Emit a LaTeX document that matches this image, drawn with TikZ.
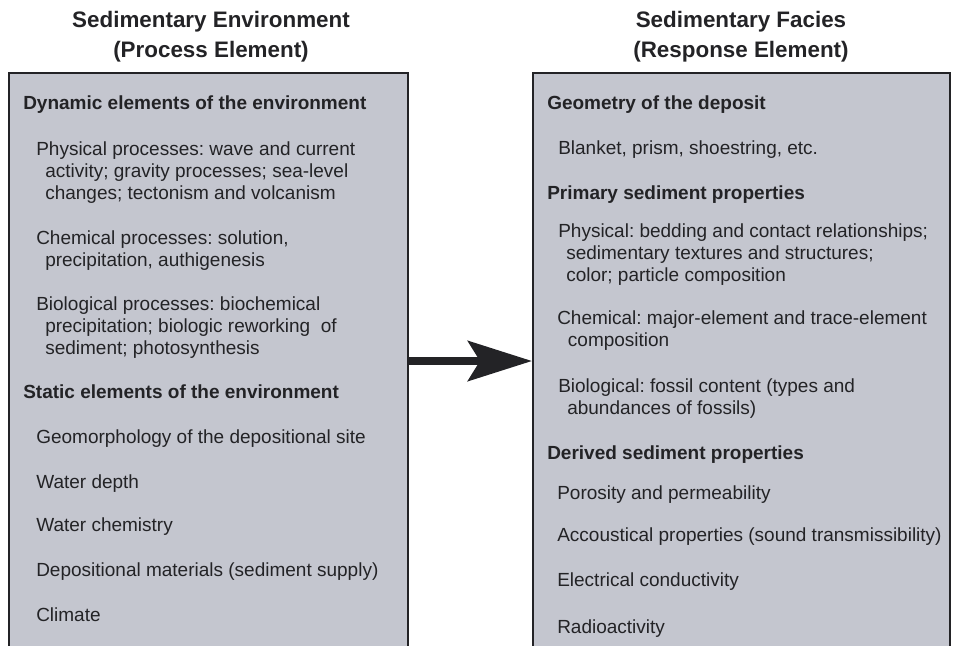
\documentclass[tikz,border=0pt]{standalone}
\usepackage{fontspec}
\setmainfont{Liberation Sans}
\usetikzlibrary{arrows.meta}
\frenchspacing
\definecolor{panelgrey}{RGB}{196,198,207}
\definecolor{inkgrey}{RGB}{35,35,38}
\begin{document}
\begin{tikzpicture}[x=0.75pt,y=-0.75pt,
    title/.style={font=\fontsize{16.8}{22.5}\selectfont\bfseries,align=center,text=inkgrey},
    panel/.style={draw=inkgrey,line width=1.8pt,fill=panelgrey,anchor=north west,inner sep=0pt},
    heading/.style={font=\fontsize{14.25}{16.5}\selectfont\bfseries,anchor=base west,inner sep=0pt,text=inkgrey},
    entry/.style={font=\fontsize{14.25}{16.5}\selectfont,anchor=base west,align=left,inner sep=0pt,text=inkgrey},
    flow/.style={line width=6pt,draw=inkgrey,-{Stealth[length=48pt,width=30pt,inset=9pt]}}]
    \useasboundingbox (0,0) rectangle (953,646);
    \clip (0,0) rectangle (953,646);
    \node[title] (envtitle) at (211,37) {Sedimentary Environment\\(Process Element)};
    \node[title] (faciestitle) at (741,37) {Sedimentary Facies\\(Response Element)};
    \node[panel,minimum width=299.25pt,minimum height=450pt] (envpanel) at (8,72) {};
    \node[panel,minimum width=312.75pt,minimum height=450pt] (faciespanel) at (532,72) {};
    \coordinate (arrowfrom) at (407,361);
    \draw[flow] (arrowfrom) -- (faciespanel.west |- arrowfrom);
    \node[heading] (dynhead) at (23,109) {Dynamic elements of the environment};
    \node[entry] (physproc) at (36,199) {Physical processes: wave and current\\\hspace*{6.75pt}activity; gravity processes; sea-level\\\hspace*{6.75pt}changes; tectonism and volcanism};
    \node[entry] (chemproc) at (36,266) {Chemical processes: solution,\\\hspace*{6.75pt}precipitation, authigenesis};
    \node[entry] (bioproc) at (36,354) {Biological processes: biochemical\\\hspace*{6.75pt}precipitation; biologic reworking\ \ of\\\hspace*{6.75pt}sediment; photosynthesis};
    \node[heading] (stathead) at (23,398) {Static elements of the environment};
    \node[entry] (geomorph) at (36,443) {Geomorphology of the depositional site};
    \node[entry] (depth) at (36,488) {Water depth};
    \node[entry] (waterchem) at (36,531) {Water chemistry};
    \node[entry] (supply) at (36,576) {Depositional materials (sediment supply)};
    \node[entry] (climate) at (36,621) {Climate};
    \node[heading] (geomhead) at (547,109) {Geometry of the deposit};
    \node[entry] (blanket) at (558,154) {Blanket, prism, shoestring, etc.};
    \node[heading] (primhead) at (547,199) {Primary sediment properties};
    \node[entry] (physprop) at (558,281) {Physical: bedding and contact relationships;\\\hspace*{6pt}sedimentary textures and structures;\\\hspace*{6pt}color; particle composition};
    \node[entry] (chemprop) at (557,346) {Chemical: major-element and trace-element\\\hspace*{8pt}composition};
    \node[entry] (bioprop) at (558,414) {Biological: fossil content (types and\\\hspace*{6.75pt}abundances of fossils)};
    \node[heading] (derhead) at (547,459) {Derived sediment properties};
    \node[entry] (porosity) at (557,499) {Porosity and permeability};
    \node[entry] (acoustic) at (557,541) {Accoustical properties (sound transmissibility)};
    \node[entry] (electric) at (557,586) {Electrical conductivity};
    \node[entry] (radio) at (557,633) {Radioactivity};
\end{tikzpicture}
\end{document}
